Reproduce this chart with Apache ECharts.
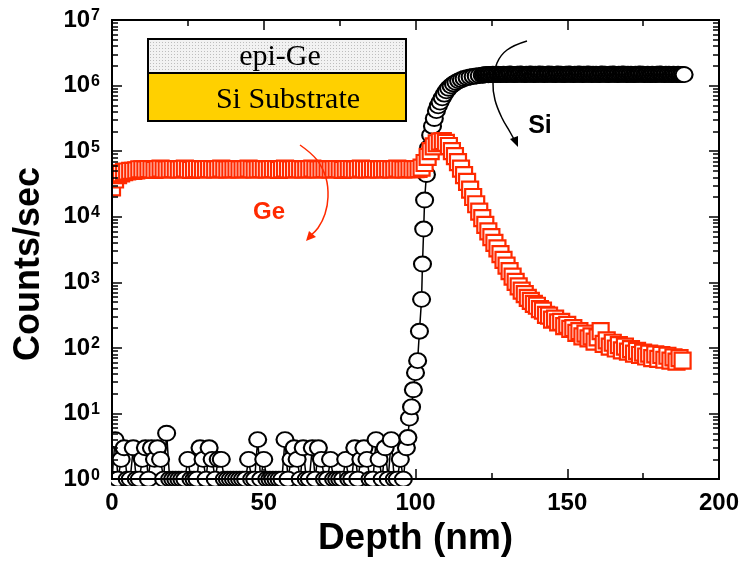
<!DOCTYPE html>
<html>
<head>
<meta charset="utf-8">
<script src="https://cdn.jsdelivr.net/npm/echarts@6/dist/echarts.min.js"></script>
<style>
html,body{margin:0;padding:0;background:#fff;}
#chart{width:743px;height:562px;}
</style>
</head>
<body>
<div id="chart"></div>
<script>
// ---------------- data ----------------
const xTicks = [0, 50, 100, 150, 200];
const yExponents = [0, 1, 2, 3, 4, 5, 6, 7];

// Si (black circles): depth in nm, counts/sec
const siDepth = [
  0,1,2,3,4,5,6,7,8,9,
  10,11,12,13,14,15,16,17,18,19,
  20,21,22,23,24,25,26,27,28,29,
  30,31,32,33,34,35,36,37,38,39,
  40,41,42,43,44,45,46,47,48,49,
  50,51,52,53,54,55,56,57,58,59,
  60,61,62,63,64,65,66,67,68,69,
  70,71,72,73,74,75,76,77,78,79,
  80,81,82,83,84,85,86,87,88,89,
  90,91,92,93,94,95,96,97,
  97.5,98,98.7,99.3,100,100.7,101.3,102,102.3,102.7,
  103,103.6,104.3,105,105.6,106.2,106.9,107.5,108.1,108.8,
  109.5,110.2,110.9,111.7,112.5,113.3,114.2,115.1,116,117,
  118,119,120,121,122,122.5,
  123,123.5,124,124.5,125,125.5,126,126.5,127,127.5,
  128,128.5,129,129.5,130,130.5,131,131.5,132,132.5,
  133,133.5,134,134.5,135,135.5,136,136.5,137,137.5,
  138,138.5,139,139.5,140,140.5,141,141.5,142,142.5,
  143,143.5,144,144.5,145,145.5,146,146.5,147,147.5,
  148,148.5,149,149.5,150,150.5,151,151.5,152,152.5,
  153,153.5,154,154.5,155,155.5,156,156.5,157,157.5,
  158,158.5,159,159.5,160,160.5,161,161.5,162,162.5,
  163,163.5,164,164.5,165,165.5,166,166.5,167,167.5,
  168,168.5,169,169.5,170,170.5,171,171.5,172,172.5,
  173,173.5,174,174.5,175,175.5,176,176.5,177,177.5,
  178,178.5,179,179.5,180,180.5,181,181.5,182,182.5,
  183,183.5,184,184.5,185,185.5,186,186.5,187,187.5,
  188,188.5
];
const siCounts = [
  1,4,1,2,3,1,1,3,1,1,
  2,3,1,3,2,3,2,1,5,1,
  1,1,1,1,1,2,1,1,1,3,
  2,1,3,2,1,2,2,1,1,1,
  1,1,1,1,1,2,1,1,4,1,
  2,1,1,1,1,1,1,4,1,2,
  3,2,1,3,1,1,3,1,3,2,
  1,1,2,1,1,1,1,2,1,1,
  3,1,2,3,2,1,1,4,2,1,
  3,1,4,1,1,2,1,3,
  4.3,8.5,12.6,23,42,64,180,550,1900,6500,
  18000,44000,112000,175000,240000,315000,415000,490000,560000,650000,
  740000,830000,910000,990000,1060000,1120000,1180000,1230000,1280000,1320000,
  1350000,1380000,1400000,1420000,1440000,1450000,
  1460000,1470000,1460000,1480000,1470000,1490000,1480000,1470000,1490000,1480000,
  1470000,1480000,1490000,1480000,1470000,1480000,1500000,1490000,1480000,1470000,
  1480000,1490000,1480000,1500000,1490000,1480000,1470000,1490000,1480000,1490000,
  1500000,1480000,1470000,1490000,1480000,1490000,1500000,1480000,1490000,1470000,
  1480000,1490000,1500000,1480000,1490000,1480000,1470000,1490000,1500000,1480000,
  1490000,1480000,1470000,1490000,1480000,1500000,1490000,1480000,1470000,1490000,
  1480000,1490000,1500000,1480000,1470000,1490000,1480000,1490000,1500000,1480000,
  1470000,1490000,1480000,1490000,1480000,1470000,1490000,1500000,1480000,1490000,
  1480000,1470000,1490000,1480000,1500000,1490000,1480000,1470000,1490000,1480000,
  1490000,1500000,1480000,1470000,1490000,1480000,1490000,1480000,1470000,1490000,
  1480000,1490000,1500000,1480000,1490000,1470000,1480000,1490000,1480000,1470000,
  1490000,1480000,1470000,1490000,1480000,1500000,1490000,1480000,1470000,1490000,
  1480000,1490000,1480000,1470000,1490000,1480000,1470000,1490000,1480000,1470000,
  1480000,1470000
];

// Ge (red squares): depth in nm, counts/sec
const geDepth = [
  0,1,2,3,4,5,6,7,8,9,
  10,11,12,13,14,15,16,17,18,19,
  20,21,22,23,24,25,26,27,28,29,
  30,31,32,33,34,35,36,37,38,39,
  40,41,42,43,44,45,46,47,48,49,
  50,51,52,53,54,55,56,57,58,59,
  60,61,62,63,64,65,66,67,68,69,
  70,71,72,73,74,75,76,77,78,79,
  80,81,82,83,84,85,86,87,88,89,
  90,91,92,93,94,95,96,97,98,99,
  100,101,102,103,104,105,106,107,108,109,
  110,111,112,113,114,115,116,117,118,119,
  120,121,122,123,124,125,126,127,128,129,
  130,131,132,133,134,135,136,137,138,139,
  140,141,142,143,144,145,146,147,148,149,
  150,151,152,153,154,155,156,157,158,159,
  160,161,162,163,164,165,166,167,168,169,
  170,171,172,173,174,175,176,177,178,179,
  180,181,182,183,184,185,186,187,188
];
const geCounts = [
  28000,37000,43000,46000,48000,49000,50000,50000,51000,53000,
  53000,52500,53500,53000,52000,53000,54000,53000,52500,53000,
  53500,53000,52500,53000,54000,53000,52000,53000,53500,53000,
  52500,53000,53500,53000,52500,53000,54000,53000,52500,53000,
  53000,53500,52500,53000,53000,54000,53000,52500,53000,53500,
  53000,52500,53000,53500,53000,52000,53000,54000,53000,52500,
  53000,53500,53000,52500,53000,53000,54000,53000,52500,53000,
  53500,53000,52500,53000,53500,53000,52000,53000,53500,53000,
  52500,53000,54000,53000,52500,53000,53500,53000,52500,53000,
  53000,53500,52500,53000,54000,53000,52500,53000,53500,53000,
  53000,53500,56000,66000,82000,100000,118000,132000,140000,142000,
  134000,120000,100000,84000,68000,54000,43000,34000,26000,20000,
  15500,12000,9500,7500,6000,4900,4000,3300,2700,2200,
  1800,1480,1220,1020,870,750,660,580,520,470,
  440,390,370,320,310,270,280,245,250,215,
  225,195,200,170,180,150,165,140,150,125,
  145,180,115,130,105,120,98,110,92,105,
  88,96,82,90,78,85,74,82,70,80,
  68,78,66,76,64,72,62,70,64
];

// minor tick positions of the log axis (2..9 in each decade)
const minorTickValues = [];
for (let d = 0; d < 7; d++) for (let m = 2; m <= 9; m++) minorTickValues.push(m * Math.pow(10, d));

// ---------------- chart ----------------
const FONT = "'Liberation Sans', Arial, Helvetica, sans-serif";
const SERIF = "'Liberation Serif', 'Times New Roman', serif";
const RED = '#ff2a00';

const siData = siDepth.map((d, i) => [d, siCounts[i]]);
const geData = geDepth.map((d, i) => [d, geCounts[i]]);

// dotted pattern for epi-Ge layer
const pat = document.createElement('canvas');
pat.width = 3; pat.height = 3;
const pctx = pat.getContext('2d');
pctx.fillStyle = '#f2f2f2'; pctx.fillRect(0, 0, 3, 3);
pctx.fillStyle = '#bdbdbd'; pctx.fillRect(0, 0, 1, 1);

const tickStyle = {color: '#000', width: 1.5};
const axisLineStyle = {color: '#000', width: 2};

function logAxis(pos, major, showLabel) {
  const ax = {
    type: 'log', logBase: 10, min: 1, max: 1e7, interval: 1,
    position: pos, gridIndex: 0, z: 60,
    axisLine: {show: true, lineStyle: axisLineStyle},
    axisTick: {show: true, inside: true, length: major ? 10 : 6, lineStyle: tickStyle},
    splitLine: {show: false},
    minorTick: {show: false},
    axisLabel: {show: false}
  };
  if (!major) ax.axisTick.customValues = minorTickValues;
  if (showLabel) {
    ax.axisLabel = {
      show: true, margin: 12,
      formatter: v => '{b|10}{s|' + Math.round(Math.log10(v)) + '}',
      rich: {
        b: {fontSize: 24, fontWeight: 'bold', fontFamily: FONT, color: '#000', lineHeight: 24, verticalAlign: 'bottom'},
        s: {fontSize: 16, fontWeight: 'bold', fontFamily: FONT, color: '#000', lineHeight: 16, verticalAlign: 'top', padding: [0, 0, 15, 1]}
      }
    };
  }
  return ax;
}

function linAxis(pos, showLabel) {
  return {
    type: 'value', min: 0, max: 200, interval: 50, position: pos, gridIndex: 0, z: 60,
    axisLine: {show: true, lineStyle: axisLineStyle},
    axisTick: {show: true, inside: true, length: 10, lineStyle: tickStyle},
    minorTick: {show: true, splitNumber: 2, length: 6, lineStyle: tickStyle},
    splitLine: {show: false},
    axisLabel: showLabel ? {show: true, margin: 12, color: '#000', fontSize: 24, fontWeight: 'bold', fontFamily: FONT,
      customValues: xTicks} : {show: false},
    name: showLabel ? 'Depth (nm)' : '',
    nameLocation: 'middle', nameGap: 40,
    nameTextStyle: {fontSize: 37, fontWeight: 'bold', color: '#000', fontFamily: FONT}
  };
}

const chart = echarts.init(document.getElementById('chart'), null, {renderer: 'canvas'});
chart.setOption({
  animation: false,
  backgroundColor: '#fff',
  grid: {left: 112, top: 20, width: 607, height: 465, containLabel: false},
  xAxis: [linAxis('bottom', true), linAxis('top', false)],
  yAxis: [logAxis('left', true, true), logAxis('left', false, false), logAxis('right', true, false), logAxis('right', false, false)],
  series: [
    {
      name: 'Si', type: 'line', xAxisIndex: 0, yAxisIndex: 0, data: siData,
      symbol: 'circle', symbolSize: [17, 15], showAllSymbol: true, clip: false,
      lineStyle: {color: '#000', width: 1.5},
      itemStyle: {color: '#fff', borderColor: '#000', borderWidth: 2},
      emphasis: {disabled: true}, z: 2
    },
    {
      name: 'Ge', type: 'scatter', xAxisIndex: 0, yAxisIndex: 0, data: geData,
      symbol: 'rect', symbolSize: 16, clip: false,
      itemStyle: {color: '#fff', borderColor: RED, borderWidth: 2.2, opacity: 1},
      emphasis: {disabled: true}, z: 3
    }
  ],
  graphic: [
    // hide the parts of markers that fall outside the frame
    {type: 'rect', z: 50, shape: {x: 101, y: 8, width: 10, height: 490}, style: {fill: '#fff'}},
    {type: 'rect', z: 50, shape: {x: 100, y: 486, width: 625, height: 9}, style: {fill: '#fff'}},
    // inset: layer stack
    {type: 'rect', z: 70, shape: {x: 148, y: 39, width: 258, height: 34}, style: {fill: {image: pat, repeat: 'repeat'}}},
    {type: 'rect', z: 70, shape: {x: 148, y: 73, width: 258, height: 48}, style: {fill: '#ffd000'}},
    {type: 'rect', z: 71, shape: {x: 148, y: 39, width: 258, height: 82}, style: {fill: null, stroke: '#000', lineWidth: 2}},
    {type: 'line', z: 71, shape: {x1: 148, y1: 73, x2: 406, y2: 73}, style: {stroke: '#000', lineWidth: 2}},
    {type: 'text', z: 72, x: 280, y: 57, style: {text: 'epi-Ge', fontSize: 30, fontFamily: SERIF, fill: '#000', align: 'center', verticalAlign: 'middle'}},
    {type: 'text', z: 72, x: 288, y: 100, style: {text: 'Si Substrate', fontSize: 30, fontFamily: SERIF, fill: '#000', align: 'center', verticalAlign: 'middle'}},
    // labels
    {type: 'text', z: 72, x: 540, y: 126, style: {text: 'Si', fontSize: 25, fontWeight: 'bold', fontFamily: FONT, fill: '#000', align: 'center', verticalAlign: 'middle'}},
    {type: 'text', z: 72, x: 269, y: 212, style: {text: 'Ge', fontSize: 24, fontWeight: 'bold', fontFamily: FONT, fill: RED, align: 'center', verticalAlign: 'middle'}},
    // arrows
    {type: 'polyline', z: 72, shape: {points: [[527, 41], [507, 50], [497, 63], [493, 83], [495, 100], [502, 118], [510, 132], [515, 141]], smooth: 0.4},
      style: {stroke: '#000', lineWidth: 1.5, fill: null}},
    {type: 'polygon', z: 72, shape: {points: [[518, 147], [510, 139], [518, 136]]}, style: {fill: '#000'}},
    {type: 'polyline', z: 72, shape: {points: [[300, 145], [317, 160], [326, 178], [328, 197], [325, 214], [318, 228], [310, 236]], smooth: 0.4},
      style: {stroke: RED, lineWidth: 1.5, fill: null}},
    {type: 'polygon', z: 72, shape: {points: [[306, 241], [309, 231], [316, 237]]}, style: {fill: RED}},
    // y axis title
    {type: 'text', z: 72, x: 29, y: 264, rotation: Math.PI / 2,
      style: {text: 'Counts/sec', fontSize: 36, fontWeight: 'bold', fontFamily: FONT, fill: '#000', align: 'center', verticalAlign: 'middle'}}
  ]
});
</script>
</body>
</html>
